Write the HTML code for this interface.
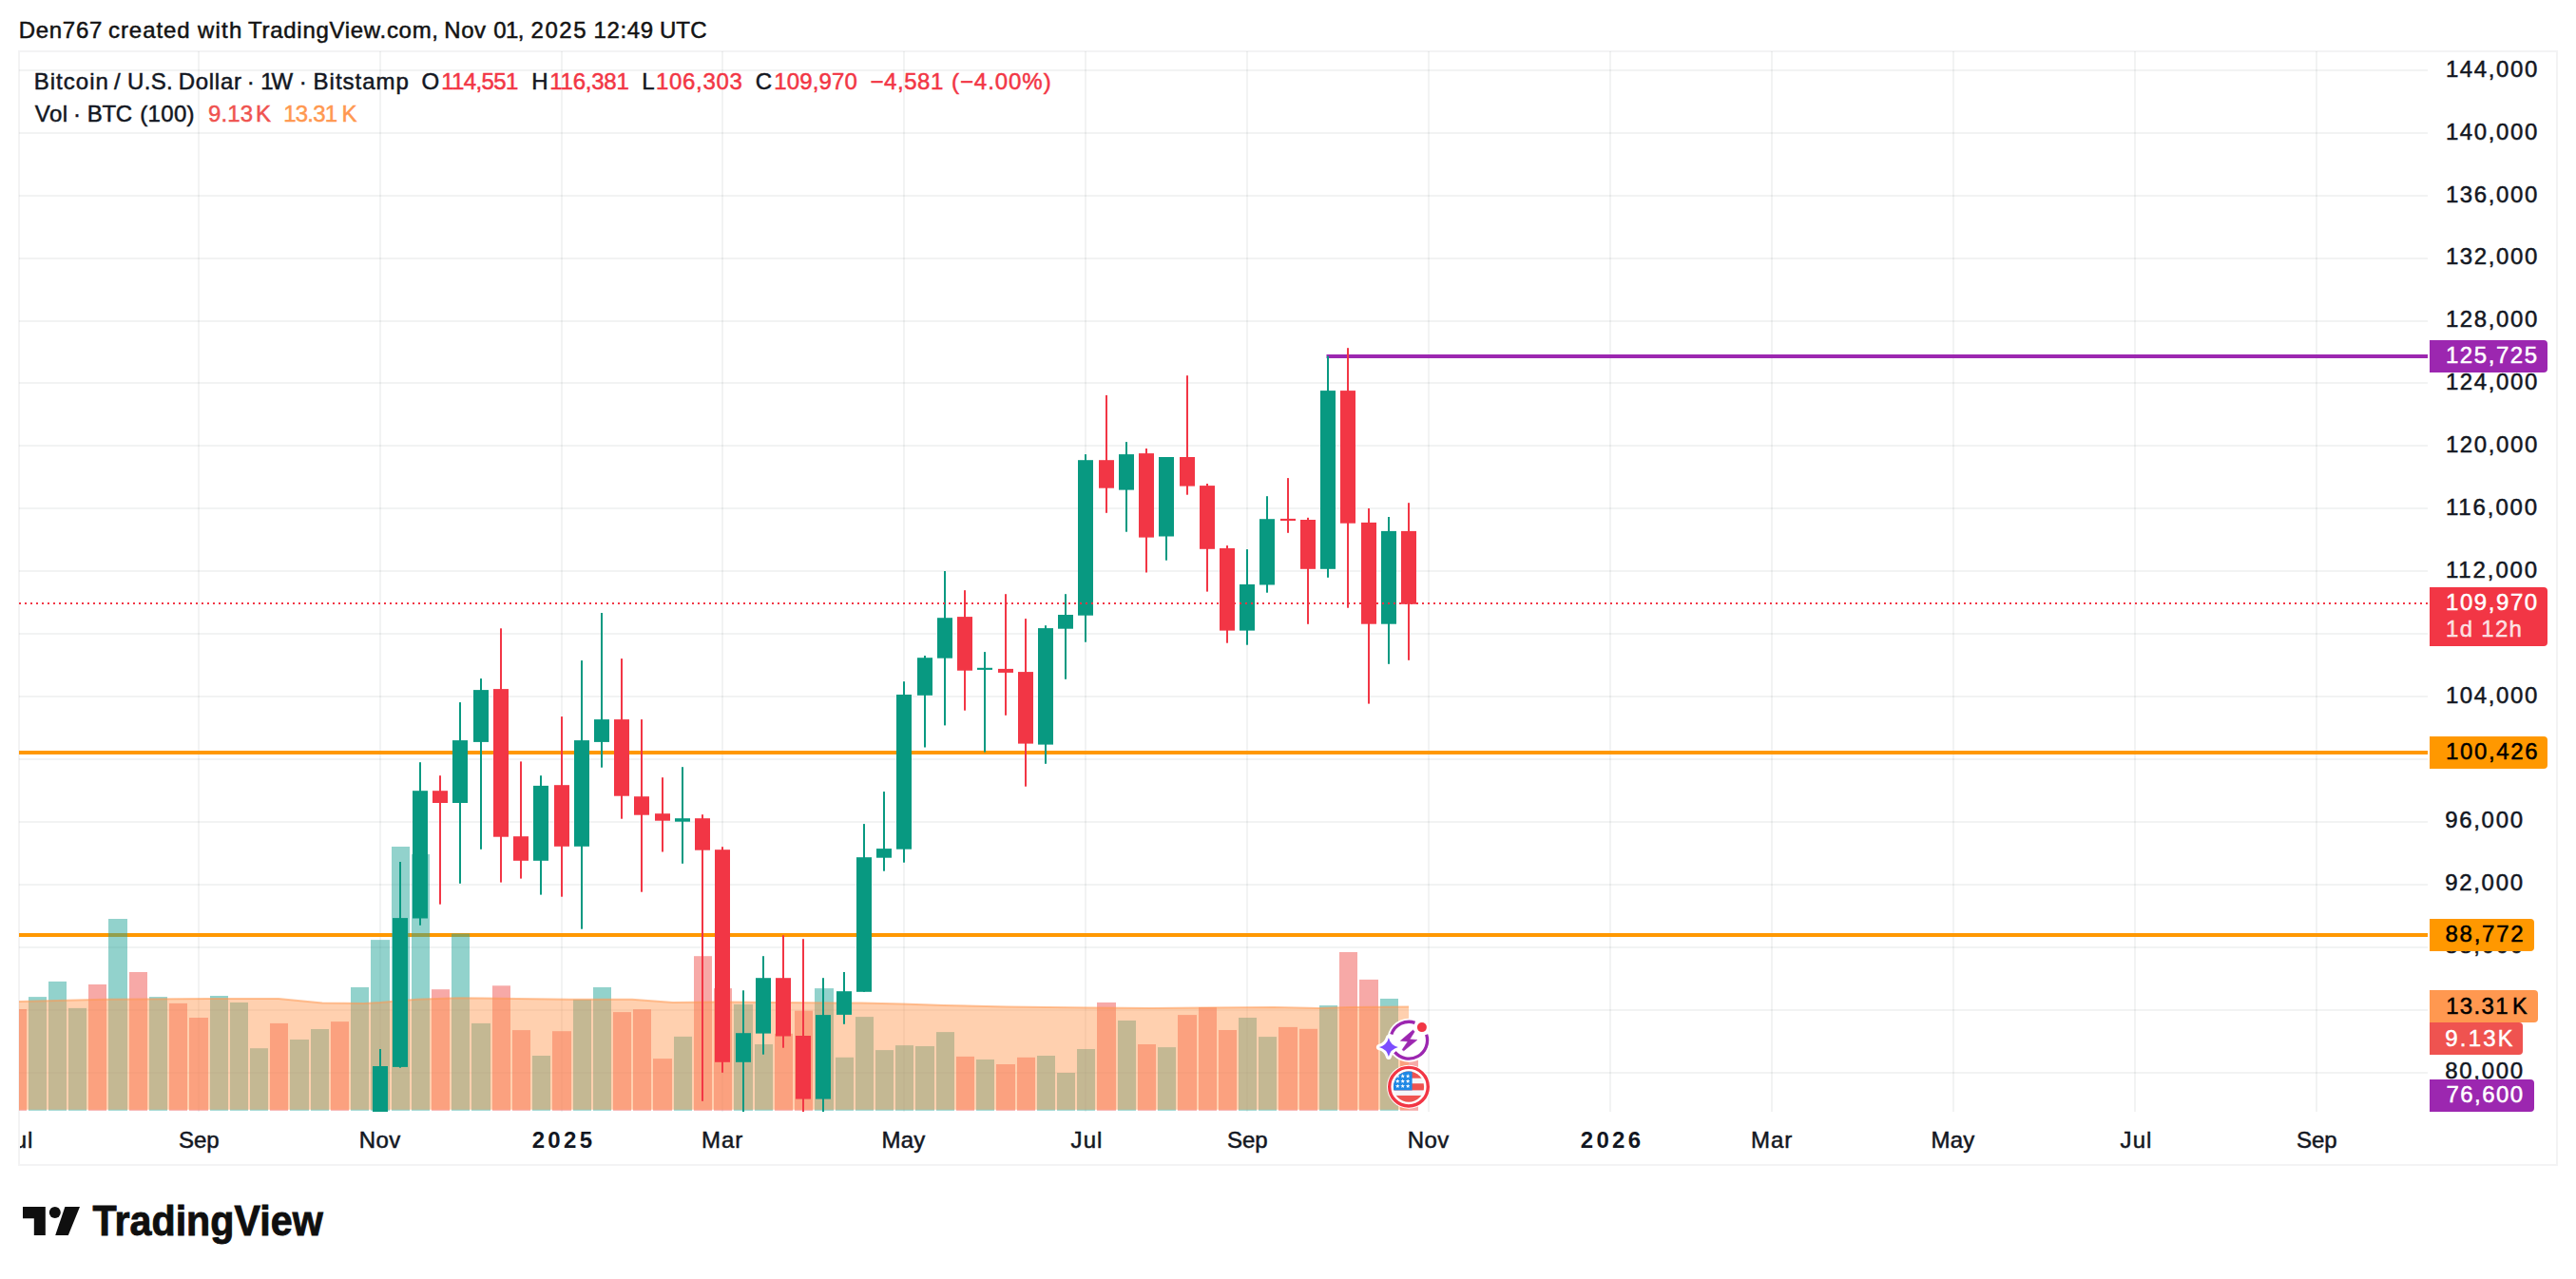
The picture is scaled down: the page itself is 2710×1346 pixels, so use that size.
<!DOCTYPE html>
<html lang="en"><head><meta charset="utf-8"><title>BTCUSD chart</title>
<style>
html,body{margin:0;padding:0;background:#fff;}
body{width:2710px;height:1346px;overflow:hidden;}
svg{display:block;font-family:"Liberation Sans",sans-serif;}
text{white-space:pre;}
</style></head><body>
<svg width="2710" height="1346" viewBox="0 0 2710 1346">
<rect x="0" y="0" width="2710" height="1346" fill="#fff"/>
<rect x="20" y="54" width="2670" height="1172" fill="none" stroke="#f3f3f4" stroke-width="2"/>
<rect x="208" y="54" width="2" height="1116" fill="rgba(42,46,57,0.06)"/>
<rect x="399" y="54" width="2" height="1116" fill="rgba(42,46,57,0.06)"/>
<rect x="590" y="54" width="2" height="1116" fill="rgba(42,46,57,0.06)"/>
<rect x="759" y="54" width="2" height="1116" fill="rgba(42,46,57,0.06)"/>
<rect x="950" y="54" width="2" height="1116" fill="rgba(42,46,57,0.06)"/>
<rect x="1141" y="54" width="2" height="1116" fill="rgba(42,46,57,0.06)"/>
<rect x="1311" y="54" width="2" height="1116" fill="rgba(42,46,57,0.06)"/>
<rect x="1502" y="54" width="2" height="1116" fill="rgba(42,46,57,0.06)"/>
<rect x="1693" y="54" width="2" height="1116" fill="rgba(42,46,57,0.06)"/>
<rect x="1863" y="54" width="2" height="1116" fill="rgba(42,46,57,0.06)"/>
<rect x="2054" y="54" width="2" height="1116" fill="rgba(42,46,57,0.06)"/>
<rect x="2245" y="54" width="2" height="1116" fill="rgba(42,46,57,0.06)"/>
<rect x="2436" y="54" width="2" height="1116" fill="rgba(42,46,57,0.06)"/>
<rect x="20" y="73" width="2534" height="2" fill="rgba(42,46,57,0.06)"/>
<rect x="20" y="139" width="2534" height="2" fill="rgba(42,46,57,0.06)"/>
<rect x="20" y="205" width="2534" height="2" fill="rgba(42,46,57,0.06)"/>
<rect x="20" y="271" width="2534" height="2" fill="rgba(42,46,57,0.06)"/>
<rect x="20" y="337" width="2534" height="2" fill="rgba(42,46,57,0.06)"/>
<rect x="20" y="402" width="2534" height="2" fill="rgba(42,46,57,0.06)"/>
<rect x="20" y="468" width="2534" height="2" fill="rgba(42,46,57,0.06)"/>
<rect x="20" y="534" width="2534" height="2" fill="rgba(42,46,57,0.06)"/>
<rect x="20" y="600" width="2534" height="2" fill="rgba(42,46,57,0.06)"/>
<rect x="20" y="666" width="2534" height="2" fill="rgba(42,46,57,0.06)"/>
<rect x="20" y="732" width="2534" height="2" fill="rgba(42,46,57,0.06)"/>
<rect x="20" y="798" width="2534" height="2" fill="rgba(42,46,57,0.06)"/>
<rect x="20" y="864" width="2534" height="2" fill="rgba(42,46,57,0.06)"/>
<rect x="20" y="930" width="2534" height="2" fill="rgba(42,46,57,0.06)"/>
<rect x="20" y="996" width="2534" height="2" fill="rgba(42,46,57,0.06)"/>
<rect x="20" y="1062" width="2534" height="2" fill="rgba(42,46,57,0.06)"/>
<rect x="20" y="1128" width="2534" height="2" fill="rgba(42,46,57,0.06)"/>
<clipPath id="pc"><rect x="20" y="54" width="2534" height="1116"/></clipPath>
<g clip-path="url(#pc)">
<rect x="20" y="790" width="2534" height="4" fill="#ff9800"/>
<rect x="20" y="982" width="2534" height="4" fill="#ff9800"/>
<rect x="1395.5" y="373" width="1158.5" height="4" fill="#9c27b0"/>
<rect x="8" y="1062.0" width="20" height="106.8" fill="rgba(239,83,80,0.5)"/>
<rect x="30" y="1049.1" width="19" height="119.7" fill="rgba(38,166,154,0.5)"/>
<rect x="51" y="1032.9" width="19" height="135.9" fill="rgba(38,166,154,0.5)"/>
<rect x="72" y="1060.9" width="19" height="107.9" fill="rgba(38,166,154,0.5)"/>
<rect x="93" y="1036.0" width="19" height="132.8" fill="rgba(239,83,80,0.5)"/>
<rect x="114" y="967.0" width="20" height="201.8" fill="rgba(38,166,154,0.5)"/>
<rect x="136" y="1023.0" width="19" height="145.8" fill="rgba(239,83,80,0.5)"/>
<rect x="157" y="1049.1" width="19" height="119.7" fill="rgba(38,166,154,0.5)"/>
<rect x="178" y="1055.9" width="19" height="112.9" fill="rgba(239,83,80,0.5)"/>
<rect x="199" y="1071.0" width="20" height="97.8" fill="rgba(239,83,80,0.5)"/>
<rect x="221" y="1048.0" width="19" height="120.8" fill="rgba(38,166,154,0.5)"/>
<rect x="242" y="1055.0" width="19" height="113.8" fill="rgba(38,166,154,0.5)"/>
<rect x="263" y="1103.2" width="19" height="65.6" fill="rgba(38,166,154,0.5)"/>
<rect x="284" y="1076.9" width="19" height="91.9" fill="rgba(239,83,80,0.5)"/>
<rect x="305" y="1094.0" width="20" height="74.8" fill="rgba(38,166,154,0.5)"/>
<rect x="327" y="1083.0" width="19" height="85.8" fill="rgba(38,166,154,0.5)"/>
<rect x="348" y="1075.1" width="19" height="93.7" fill="rgba(239,83,80,0.5)"/>
<rect x="369" y="1039.0" width="19" height="129.8" fill="rgba(38,166,154,0.5)"/>
<rect x="390" y="989.1" width="20" height="179.7" fill="rgba(38,166,154,0.5)"/>
<rect x="412" y="891.0" width="19" height="277.8" fill="rgba(38,166,154,0.5)"/>
<rect x="433" y="899.0" width="19" height="269.8" fill="rgba(38,166,154,0.5)"/>
<rect x="454" y="1041.2" width="19" height="127.6" fill="rgba(239,83,80,0.5)"/>
<rect x="475" y="982.5" width="19" height="186.3" fill="rgba(38,166,154,0.5)"/>
<rect x="496" y="1076.9" width="20" height="91.9" fill="rgba(38,166,154,0.5)"/>
<rect x="518" y="1037.3" width="19" height="131.5" fill="rgba(239,83,80,0.5)"/>
<rect x="539" y="1084.1" width="19" height="84.7" fill="rgba(239,83,80,0.5)"/>
<rect x="560" y="1111.0" width="19" height="57.8" fill="rgba(38,166,154,0.5)"/>
<rect x="581" y="1085.2" width="20" height="83.6" fill="rgba(239,83,80,0.5)"/>
<rect x="603" y="1051.9" width="19" height="116.9" fill="rgba(38,166,154,0.5)"/>
<rect x="624" y="1039.0" width="19" height="129.8" fill="rgba(38,166,154,0.5)"/>
<rect x="645" y="1065.1" width="19" height="103.7" fill="rgba(239,83,80,0.5)"/>
<rect x="666" y="1062.2" width="19" height="106.6" fill="rgba(239,83,80,0.5)"/>
<rect x="687" y="1114.1" width="20" height="54.7" fill="rgba(239,83,80,0.5)"/>
<rect x="709" y="1090.9" width="19" height="77.9" fill="rgba(38,166,154,0.5)"/>
<rect x="730" y="1006.2" width="19" height="162.6" fill="rgba(239,83,80,0.5)"/>
<rect x="751" y="1040.1" width="19" height="128.7" fill="rgba(239,83,80,0.5)"/>
<rect x="772" y="1057.0" width="20" height="111.8" fill="rgba(38,166,154,0.5)"/>
<rect x="794" y="1099.0" width="19" height="69.8" fill="rgba(38,166,154,0.5)"/>
<rect x="815" y="1087.8" width="19" height="81.0" fill="rgba(239,83,80,0.5)"/>
<rect x="836" y="1063.7" width="19" height="105.1" fill="rgba(239,83,80,0.5)"/>
<rect x="857" y="1040.1" width="20" height="128.7" fill="rgba(38,166,154,0.5)"/>
<rect x="879" y="1112.8" width="19" height="56.0" fill="rgba(38,166,154,0.5)"/>
<rect x="900" y="1070.1" width="19" height="98.7" fill="rgba(38,166,154,0.5)"/>
<rect x="921" y="1105.1" width="19" height="63.7" fill="rgba(38,166,154,0.5)"/>
<rect x="942" y="1100.1" width="19" height="68.7" fill="rgba(38,166,154,0.5)"/>
<rect x="963" y="1101.0" width="20" height="67.8" fill="rgba(38,166,154,0.5)"/>
<rect x="985" y="1086.1" width="19" height="82.7" fill="rgba(38,166,154,0.5)"/>
<rect x="1006" y="1111.9" width="19" height="56.9" fill="rgba(239,83,80,0.5)"/>
<rect x="1027" y="1115.0" width="19" height="53.8" fill="rgba(38,166,154,0.5)"/>
<rect x="1048" y="1120.0" width="20" height="48.8" fill="rgba(239,83,80,0.5)"/>
<rect x="1070" y="1112.8" width="19" height="56.0" fill="rgba(239,83,80,0.5)"/>
<rect x="1091" y="1111.0" width="19" height="57.8" fill="rgba(38,166,154,0.5)"/>
<rect x="1112" y="1129.0" width="19" height="39.8" fill="rgba(38,166,154,0.5)"/>
<rect x="1133" y="1104.0" width="19" height="64.8" fill="rgba(38,166,154,0.5)"/>
<rect x="1154" y="1055.0" width="20" height="113.8" fill="rgba(239,83,80,0.5)"/>
<rect x="1176" y="1074.0" width="19" height="94.8" fill="rgba(38,166,154,0.5)"/>
<rect x="1197" y="1099.0" width="19" height="69.8" fill="rgba(239,83,80,0.5)"/>
<rect x="1218" y="1102.1" width="19" height="66.7" fill="rgba(38,166,154,0.5)"/>
<rect x="1239" y="1068.1" width="20" height="100.7" fill="rgba(239,83,80,0.5)"/>
<rect x="1261" y="1060.0" width="19" height="108.8" fill="rgba(239,83,80,0.5)"/>
<rect x="1282" y="1084.0" width="19" height="84.8" fill="rgba(239,83,80,0.5)"/>
<rect x="1303" y="1071.0" width="19" height="97.8" fill="rgba(38,166,154,0.5)"/>
<rect x="1324" y="1091.1" width="19" height="77.7" fill="rgba(38,166,154,0.5)"/>
<rect x="1345" y="1080.9" width="20" height="87.9" fill="rgba(239,83,80,0.5)"/>
<rect x="1367" y="1082.8" width="19" height="86.0" fill="rgba(239,83,80,0.5)"/>
<rect x="1388" y="1058.1" width="19" height="110.7" fill="rgba(38,166,154,0.5)"/>
<rect x="1409" y="1002.0" width="19" height="166.8" fill="rgba(239,83,80,0.5)"/>
<rect x="1430" y="1030.9" width="20" height="137.9" fill="rgba(239,83,80,0.5)"/>
<rect x="1452" y="1051.0" width="19" height="117.8" fill="rgba(38,166,154,0.5)"/>
<rect x="1473" y="1093.0" width="19" height="75.8" fill="rgba(239,83,80,0.5)"/>
<polygon points="20,1053.9 109,1051.7 219,1051 293,1051 339,1055.4 383,1055.9 400,1055 438,1051.7 482,1050.2 599,1051.7 665,1051.7 708,1055 752,1054.5 880,1055.4 906,1055.4 949,1056.5 993,1058 1059,1059.4 1146,1060.5 1212,1060.9 1340,1060 1387,1061 1420,1060 1482,1059.4 1482,1167.8 20,1167.8" fill="rgba(255,152,80,0.46)"/>
<polyline points="20,1053.9 109,1051.7 219,1051 293,1051 339,1055.4 383,1055.9 400,1055 438,1051.7 482,1050.2 599,1051.7 665,1051.7 708,1055 752,1054.5 880,1055.4 906,1055.4 949,1056.5 993,1058 1059,1059.4 1146,1060.5 1212,1060.9 1340,1060 1387,1061 1420,1060 1482,1059.4" fill="none" stroke="rgba(255,152,80,0.55)" stroke-width="2"/>
<rect x="399" y="1104.0" width="2" height="71.0" fill="#089981"/>
<rect x="392" y="1122.0" width="16" height="53.0" fill="#089981"/>
<rect x="420" y="907.0" width="2" height="216.7" fill="#089981"/>
<rect x="413" y="966.1" width="16" height="156.8" fill="#089981"/>
<rect x="441" y="802.2" width="2" height="171.6" fill="#089981"/>
<rect x="434" y="832.2" width="16" height="134.3" fill="#089981"/>
<rect x="462" y="816.2" width="2" height="135.5" fill="#f23645"/>
<rect x="455" y="832.2" width="16" height="12.8" fill="#f23645"/>
<rect x="483" y="739.1" width="2" height="190.7" fill="#089981"/>
<rect x="476" y="779.1" width="16" height="65.9" fill="#089981"/>
<rect x="505" y="714.1" width="2" height="179.7" fill="#089981"/>
<rect x="498" y="726.1" width="16" height="54.8" fill="#089981"/>
<rect x="526" y="661.3" width="2" height="267.3" fill="#f23645"/>
<rect x="519" y="725.1" width="16" height="155.6" fill="#f23645"/>
<rect x="547" y="801.4" width="2" height="123.2" fill="#f23645"/>
<rect x="540" y="880.2" width="16" height="25.6" fill="#f23645"/>
<rect x="568" y="816.2" width="2" height="125.4" fill="#089981"/>
<rect x="561" y="826.9" width="16" height="78.9" fill="#089981"/>
<rect x="590" y="754.1" width="2" height="189.6" fill="#f23645"/>
<rect x="583" y="826.2" width="16" height="64.6" fill="#f23645"/>
<rect x="611" y="695.1" width="2" height="282.6" fill="#089981"/>
<rect x="604" y="779.1" width="16" height="111.7" fill="#089981"/>
<rect x="632" y="645.0" width="2" height="162.7" fill="#089981"/>
<rect x="625" y="757.1" width="16" height="23.8" fill="#089981"/>
<rect x="653" y="693.1" width="2" height="168.6" fill="#f23645"/>
<rect x="646" y="757.1" width="16" height="80.6" fill="#f23645"/>
<rect x="674" y="757.1" width="2" height="181.6" fill="#f23645"/>
<rect x="667" y="838.2" width="16" height="19.5" fill="#f23645"/>
<rect x="696" y="818.2" width="2" height="78.3" fill="#f23645"/>
<rect x="689" y="856.2" width="16" height="7.5" fill="#f23645"/>
<rect x="717" y="807.2" width="2" height="101.6" fill="#089981"/>
<rect x="710" y="861.2" width="16" height="3.5" fill="#089981"/>
<rect x="738" y="857.2" width="2" height="301.6" fill="#f23645"/>
<rect x="731" y="861.2" width="16" height="33.5" fill="#f23645"/>
<rect x="759" y="891.2" width="2" height="237.6" fill="#f23645"/>
<rect x="752" y="894.2" width="16" height="223.6" fill="#f23645"/>
<rect x="781" y="1042.3" width="2" height="132.7" fill="#089981"/>
<rect x="774" y="1087.2" width="16" height="30.6" fill="#089981"/>
<rect x="802" y="1006.2" width="2" height="103.5" fill="#089981"/>
<rect x="795" y="1029.2" width="16" height="58.4" fill="#089981"/>
<rect x="823" y="984.3" width="2" height="118.4" fill="#f23645"/>
<rect x="816" y="1029.2" width="16" height="61.3" fill="#f23645"/>
<rect x="844" y="988.2" width="2" height="186.8" fill="#f23645"/>
<rect x="837" y="1090.0" width="16" height="66.6" fill="#f23645"/>
<rect x="865" y="1029.2" width="2" height="145.8" fill="#089981"/>
<rect x="858" y="1068.1" width="16" height="88.5" fill="#089981"/>
<rect x="887" y="1023.0" width="2" height="54.8" fill="#089981"/>
<rect x="880" y="1043.2" width="16" height="24.7" fill="#089981"/>
<rect x="908" y="867.1" width="2" height="176.7" fill="#089981"/>
<rect x="901" y="902.2" width="16" height="141.6" fill="#089981"/>
<rect x="929" y="833.1" width="2" height="83.6" fill="#089981"/>
<rect x="922" y="893.1" width="16" height="9.6" fill="#089981"/>
<rect x="950" y="717.2" width="2" height="190.5" fill="#089981"/>
<rect x="943" y="731.0" width="16" height="162.7" fill="#089981"/>
<rect x="972" y="690.0" width="2" height="96.5" fill="#089981"/>
<rect x="965" y="692.2" width="16" height="39.6" fill="#089981"/>
<rect x="993" y="601.0" width="2" height="162.4" fill="#089981"/>
<rect x="986" y="650.2" width="16" height="42.5" fill="#089981"/>
<rect x="1014" y="621.2" width="2" height="126.5" fill="#f23645"/>
<rect x="1007" y="649.1" width="16" height="56.6" fill="#f23645"/>
<rect x="1035" y="686.1" width="2" height="105.5" fill="#089981"/>
<rect x="1028" y="702.8" width="16" height="2.1" fill="#089981"/>
<rect x="1057" y="625.2" width="2" height="127.6" fill="#f23645"/>
<rect x="1050" y="703.9" width="16" height="4.0" fill="#f23645"/>
<rect x="1078" y="651.1" width="2" height="176.6" fill="#f23645"/>
<rect x="1071" y="707.1" width="16" height="75.5" fill="#f23645"/>
<rect x="1099" y="658.2" width="2" height="145.6" fill="#089981"/>
<rect x="1092" y="661.1" width="16" height="122.5" fill="#089981"/>
<rect x="1120" y="625.2" width="2" height="89.6" fill="#089981"/>
<rect x="1113" y="647.0" width="16" height="14.7" fill="#089981"/>
<rect x="1141" y="478.1" width="2" height="197.6" fill="#089981"/>
<rect x="1134" y="484.2" width="16" height="163.5" fill="#089981"/>
<rect x="1163" y="415.9" width="2" height="123.9" fill="#f23645"/>
<rect x="1156" y="484.2" width="16" height="29.5" fill="#f23645"/>
<rect x="1184" y="465.1" width="2" height="94.6" fill="#089981"/>
<rect x="1177" y="478.1" width="16" height="37.5" fill="#089981"/>
<rect x="1205" y="472.0" width="2" height="130.5" fill="#f23645"/>
<rect x="1198" y="477.1" width="16" height="88.5" fill="#f23645"/>
<rect x="1226" y="481.0" width="2" height="108.7" fill="#089981"/>
<rect x="1219" y="481.0" width="16" height="83.5" fill="#089981"/>
<rect x="1248" y="395.2" width="2" height="125.5" fill="#f23645"/>
<rect x="1241" y="481.0" width="16" height="30.6" fill="#f23645"/>
<rect x="1269" y="509.0" width="2" height="113.6" fill="#f23645"/>
<rect x="1262" y="511.1" width="16" height="66.7" fill="#f23645"/>
<rect x="1290" y="574.1" width="2" height="102.6" fill="#f23645"/>
<rect x="1283" y="577.0" width="16" height="86.6" fill="#f23645"/>
<rect x="1311" y="578.1" width="2" height="100.6" fill="#089981"/>
<rect x="1304" y="615.0" width="16" height="48.6" fill="#089981"/>
<rect x="1332" y="522.2" width="2" height="101.5" fill="#089981"/>
<rect x="1325" y="546.2" width="16" height="69.3" fill="#089981"/>
<rect x="1354" y="503.1" width="2" height="57.7" fill="#f23645"/>
<rect x="1347" y="545.9" width="16" height="2.1" fill="#f23645"/>
<rect x="1375" y="544.8" width="2" height="112.0" fill="#f23645"/>
<rect x="1368" y="547.0" width="16" height="51.8" fill="#f23645"/>
<rect x="1396" y="374.7" width="2" height="233.1" fill="#089981"/>
<rect x="1389" y="411.1" width="16" height="187.7" fill="#089981"/>
<rect x="1417" y="366.2" width="2" height="273.5" fill="#f23645"/>
<rect x="1410" y="411.1" width="16" height="139.6" fill="#f23645"/>
<rect x="1439" y="535.0" width="2" height="205.6" fill="#f23645"/>
<rect x="1432" y="549.9" width="16" height="106.8" fill="#f23645"/>
<rect x="1460" y="544.0" width="2" height="154.8" fill="#089981"/>
<rect x="1453" y="558.9" width="16" height="97.8" fill="#089981"/>
<rect x="1481" y="529.2" width="2" height="165.6" fill="#f23645"/>
<rect x="1474" y="558.9" width="16" height="76.9" fill="#f23645"/>
<line x1="20" y1="635" x2="2554" y2="635" stroke="#f23645" stroke-width="2" stroke-dasharray="2 4"/>
</g>
<text x="2572.90" y="80.90" font-size="24" fill="#131722" stroke="#131722" stroke-width="0.5" letter-spacing="1.600">144,000</text>
<text x="2572.90" y="146.76" font-size="24" fill="#131722" stroke="#131722" stroke-width="0.5" letter-spacing="1.600">140,000</text>
<text x="2572.90" y="212.62" font-size="24" fill="#131722" stroke="#131722" stroke-width="0.5" letter-spacing="1.600">136,000</text>
<text x="2572.90" y="278.48" font-size="24" fill="#131722" stroke="#131722" stroke-width="0.5" letter-spacing="1.600">132,000</text>
<text x="2572.90" y="344.34" font-size="24" fill="#131722" stroke="#131722" stroke-width="0.5" letter-spacing="1.600">128,000</text>
<text x="2572.90" y="410.20" font-size="24" fill="#131722" stroke="#131722" stroke-width="0.5" letter-spacing="1.600">124,000</text>
<text x="2572.90" y="476.06" font-size="24" fill="#131722" stroke="#131722" stroke-width="0.5" letter-spacing="1.600">120,000</text>
<text x="2572.90" y="541.92" font-size="24" fill="#131722" stroke="#131722" stroke-width="0.5" letter-spacing="1.890">116,000</text>
<text x="2572.90" y="607.78" font-size="24" fill="#131722" stroke="#131722" stroke-width="0.5" letter-spacing="1.890">112,000</text>
<text x="2572.90" y="739.50" font-size="24" fill="#131722" stroke="#131722" stroke-width="0.5" letter-spacing="1.600">104,000</text>
<text x="2572.90" y="805.36" font-size="24" fill="#131722" stroke="#131722" stroke-width="0.5" letter-spacing="1.600">100,000</text>
<text x="2572.22" y="871.22" font-size="24" fill="#131722" stroke="#131722" stroke-width="0.5" letter-spacing="1.680">96,000</text>
<text x="2572.22" y="937.08" font-size="24" fill="#131722" stroke="#131722" stroke-width="0.5" letter-spacing="1.680">92,000</text>
<text x="2572.28" y="1002.94" font-size="24" fill="#131722" stroke="#131722" stroke-width="0.5" letter-spacing="1.668">88,000</text>
<text x="2572.28" y="1134.66" font-size="24" fill="#131722" stroke="#131722" stroke-width="0.5" letter-spacing="1.668">80,000</text>
<path d="M2556,358H2676a4,4 0 0 1 4,4V388a4,4 0 0 1 -4,4H2556Z" fill="#9c27b0"/>
<text x="2572.90" y="382.20" font-size="24" fill="#fff" stroke="#fff" stroke-width="0.5" letter-spacing="1.577">125,725</text>
<path d="M2556,618H2676a4,4 0 0 1 4,4V676a4,4 0 0 1 -4,4H2556Z" fill="#f23645"/>
<text x="2573.00" y="642.20" font-size="24" fill="#fff" stroke="#fff" stroke-width="0.5" letter-spacing="1.567">109,970</text>
<text x="2573.00" y="670.00" font-size="24" fill="rgba(255,255,255,0.82)" stroke="rgba(255,255,255,0.82)" stroke-width="0.5" letter-spacing="1.304">1d 12h</text>
<path d="M2556,775H2676a4,4 0 0 1 4,4V805a4,4 0 0 1 -4,4H2556Z" fill="#ff9800"/>
<text x="2572.90" y="798.80" font-size="24" fill="#000" stroke="#000" stroke-width="0.5" letter-spacing="1.670">100,426</text>
<path d="M2556,967H2662a4,4 0 0 1 4,4V997a4,4 0 0 1 -4,4H2556Z" fill="#ff9800"/>
<text x="2572.48" y="991.00" font-size="24" fill="#000" stroke="#000" stroke-width="0.5" letter-spacing="1.756">88,772</text>
<path d="M2556,1042H2666a4,4 0 0 1 4,4V1072a4,4 0 0 1 -4,4H2556Z" fill="#ff9850"/>
<text y="1067.00" font-size="24" fill="#000" stroke="#000" stroke-width="0.5"><tspan x="2573.20" letter-spacing="1.320">13.31</tspan><tspan x="2643.08" textLength="15.62" lengthAdjust="spacingAndGlyphs">K</tspan></text>
<path d="M2556,1076H2650a4,4 0 0 1 4,4V1106a4,4 0 0 1 -4,4H2556Z" fill="#ef5350"/>
<text y="1100.70" font-size="24" fill="#fff" stroke="#fff" stroke-width="0.5"><tspan x="2572.32" letter-spacing="2.173">9.13</tspan><tspan x="2627.78" textLength="15.62" lengthAdjust="spacingAndGlyphs">K</tspan></text>
<path d="M2556,1136H2662a4,4 0 0 1 4,4V1166a4,4 0 0 1 -4,4H2556Z" fill="#9c27b0"/>
<text x="2573.40" y="1160.20" font-size="24" fill="#fff" stroke="#fff" stroke-width="0.5" letter-spacing="1.464">76,600</text>
<circle cx="1482.2" cy="1094.7" r="23" fill="#fff"/>
<path d="M1463.79,1088.58A19.4,19.4 0 0 1 1488.52,1076.36 M1500.65,1088.71A19.4,19.4 0 0 1 1467.34,1107.17" fill="none" stroke="#9c27b0" stroke-width="3.3"/>
<polygon points="1486.45,1084.1 1473.38,1095.28 1481.12,1095.97 1475.1,1104.74 1476.8,1105.86 1490.75,1094.42 1483.0,1093.82 1488.17,1085.65" fill="#9c27b0" stroke="#9c27b0" stroke-width="0.6" stroke-linejoin="round"/>
<circle cx="1495.9" cy="1081.1" r="7.6" fill="#fff"/><circle cx="1495.9" cy="1081.1" r="5" fill="#f23645"/>
<path d="M1460.9,1092Q1462.9,1100 1470.9,1102Q1462.9,1104 1460.9,1112Q1458.9,1104 1450.9,1102Q1458.9,1100 1460.9,1092Z" fill="#fff" stroke="#fff" stroke-width="6" stroke-linejoin="round"/>
<path d="M1460.9,1092Q1462.9,1100 1470.9,1102Q1462.9,1104 1460.9,1112Q1458.9,1104 1450.9,1102Q1458.9,1100 1460.9,1092Z" fill="#7c4dff"/>
<circle cx="1482" cy="1143.7" r="23" fill="#fff"/>
<circle cx="1482" cy="1143.7" r="20.3" fill="#fff" stroke="#f23645" stroke-width="3.4"/>
<clipPath id="fc"><circle cx="1482" cy="1143.7" r="16.1"/></clipPath><g clip-path="url(#fc)">
<rect x="1465" y="1126.7" width="34" height="34" fill="#f5f7fa"/>
<rect x="1465" y="1126.70" width="34" height="8.00" fill="#ef5350"/>
<rect x="1465" y="1140.26" width="34" height="7.14" fill="#ef5350"/>
<rect x="1465" y="1152.90" width="34" height="7.80" fill="#ef5350"/>
<rect x="1465" y="1126.7" width="20.6" height="20.7" fill="#1e88e5"/>
<polygon points="1470.30,1130.10 1470.89,1131.69 1472.58,1131.76 1471.25,1132.81 1471.71,1134.44 1470.30,1133.50 1468.89,1134.44 1469.35,1132.81 1468.02,1131.76 1469.71,1131.69" fill="#fff"/>
<polygon points="1470.30,1135.50 1470.89,1137.09 1472.58,1137.16 1471.25,1138.21 1471.71,1139.84 1470.30,1138.90 1468.89,1139.84 1469.35,1138.21 1468.02,1137.16 1469.71,1137.09" fill="#fff"/>
<polygon points="1470.30,1140.70 1470.89,1142.29 1472.58,1142.36 1471.25,1143.41 1471.71,1145.04 1470.30,1144.10 1468.89,1145.04 1469.35,1143.41 1468.02,1142.36 1469.71,1142.29" fill="#fff"/>
<polygon points="1475.70,1130.10 1476.29,1131.69 1477.98,1131.76 1476.65,1132.81 1477.11,1134.44 1475.70,1133.50 1474.29,1134.44 1474.75,1132.81 1473.42,1131.76 1475.11,1131.69" fill="#fff"/>
<polygon points="1475.70,1135.50 1476.29,1137.09 1477.98,1137.16 1476.65,1138.21 1477.11,1139.84 1475.70,1138.90 1474.29,1139.84 1474.75,1138.21 1473.42,1137.16 1475.11,1137.09" fill="#fff"/>
<polygon points="1475.70,1140.70 1476.29,1142.29 1477.98,1142.36 1476.65,1143.41 1477.11,1145.04 1475.70,1144.10 1474.29,1145.04 1474.75,1143.41 1473.42,1142.36 1475.11,1142.29" fill="#fff"/>
<polygon points="1481.14,1130.10 1481.73,1131.69 1483.42,1131.76 1482.09,1132.81 1482.55,1134.44 1481.14,1133.50 1479.73,1134.44 1480.19,1132.81 1478.86,1131.76 1480.55,1131.69" fill="#fff"/>
<polygon points="1481.14,1135.50 1481.73,1137.09 1483.42,1137.16 1482.09,1138.21 1482.55,1139.84 1481.14,1138.90 1479.73,1139.84 1480.19,1138.21 1478.86,1137.16 1480.55,1137.09" fill="#fff"/>
<polygon points="1481.14,1140.70 1481.73,1142.29 1483.42,1142.36 1482.09,1143.41 1482.55,1145.04 1481.14,1144.10 1479.73,1145.04 1480.19,1143.41 1478.86,1142.36 1480.55,1142.29" fill="#fff"/>
</g>
<clipPath id="tc"><rect x="21" y="1170" width="2668" height="55"/></clipPath><g clip-path="url(#tc)">
<text x="1.59" y="1207.90" font-size="24" fill="#131722" stroke="#131722" stroke-width="0.5" letter-spacing="1.080">Jul</text>
<text x="188.07" y="1207.90" font-size="24" fill="#131722" stroke="#131722" stroke-width="0.5" letter-spacing="-0.060">Sep</text>
<text x="377.78" y="1207.90" font-size="24" fill="#131722" stroke="#131722" stroke-width="0.5" letter-spacing="0.360">Nov</text>
<text x="559.67" y="1207.90" font-size="24" fill="#131722" letter-spacing="3.313" font-weight="700">2025</text>
<text x="737.88" y="1207.90" font-size="24" fill="#131722" stroke="#131722" stroke-width="0.5" letter-spacing="1.070">Mar</text>
<text x="927.56" y="1207.90" font-size="24" fill="#131722" stroke="#131722" stroke-width="0.5" letter-spacing="0.205">May</text>
<text x="1126.59" y="1207.90" font-size="24" fill="#131722" stroke="#131722" stroke-width="0.5" letter-spacing="1.080">Jul</text>
<text x="1291.07" y="1207.90" font-size="24" fill="#131722" stroke="#131722" stroke-width="0.5" letter-spacing="-0.060">Sep</text>
<text x="1480.78" y="1207.90" font-size="24" fill="#131722" stroke="#131722" stroke-width="0.5" letter-spacing="0.360">Nov</text>
<text x="1662.67" y="1207.90" font-size="24" fill="#131722" letter-spacing="3.373" font-weight="700">2026</text>
<text x="1841.88" y="1207.90" font-size="24" fill="#131722" stroke="#131722" stroke-width="0.5" letter-spacing="1.070">Mar</text>
<text x="2031.56" y="1207.90" font-size="24" fill="#131722" stroke="#131722" stroke-width="0.5" letter-spacing="0.205">May</text>
<text x="2230.59" y="1207.90" font-size="24" fill="#131722" stroke="#131722" stroke-width="0.5" letter-spacing="1.080">Jul</text>
<text x="2416.07" y="1207.90" font-size="24" fill="#131722" stroke="#131722" stroke-width="0.5" letter-spacing="-0.060">Sep</text>
</g>
<text y="39.80" font-size="24" fill="#131313" stroke="#131313" stroke-width="0.5"><tspan x="19.68" letter-spacing="0.720">Den767</tspan> <tspan x="113.98" letter-spacing="0.947">created</tspan> <tspan x="208.06" letter-spacing="1.193">with</tspan> <tspan x="261.12" letter-spacing="0.697">TradingView.com,</tspan> <tspan x="467.28" letter-spacing="0.560">Nov</tspan> <tspan x="519.20" letter-spacing="-0.580">01,</tspan> <tspan x="558.50" letter-spacing="1.573">2025</tspan> <tspan x="624.50" letter-spacing="0.655">12:49</tspan> <tspan x="693.90" letter-spacing="0.140">UTC</tspan></text>
<text y="93.80" font-size="24" fill="#131722" stroke="#131722" stroke-width="0.5"><tspan x="35.78" letter-spacing="1.003">Bitcoin</tspan> <tspan x="120.10" letter-spacing="0.000">/</tspan> <tspan x="134.10" letter-spacing="0.293">U.S.</tspan> <tspan x="187.78" letter-spacing="0.696">Dollar</tspan> <tspan x="259.78" letter-spacing="0.000">·</tspan> <tspan x="274.20" letter-spacing="-1.940">1W</tspan> <tspan x="314.78" letter-spacing="0.000">·</tspan> <tspan x="329.58" letter-spacing="0.989">Bitstamp</tspan> <tspan x="443.62" letter-spacing="0.000">O</tspan> <tspan x="464.20" letter-spacing="-0.653" fill="#f23645" stroke="#f23645">114,551</tspan> <tspan x="559.28" letter-spacing="0.000">H</tspan> <tspan x="578.30" letter-spacing="-0.253" fill="#f23645" stroke="#f23645">116,381</tspan> <tspan x="675.28" letter-spacing="0.000">L</tspan> <tspan x="690.10" letter-spacing="0.653" fill="#f23645" stroke="#f23645">106,303</tspan> <tspan x="794.80" letter-spacing="0.000">C</tspan> <tspan x="814.20" letter-spacing="0.133" fill="#f23645" stroke="#f23645">109,970</tspan> <tspan x="915.46" letter-spacing="0.568" fill="#f23645" stroke="#f23645">−4,581</tspan> <tspan x="1000.96" letter-spacing="0.949" fill="#f23645" stroke="#f23645">(−4.00%)</tspan></text>
<text y="127.80" font-size="24" fill="#131722" stroke="#131722" stroke-width="0.5"><tspan x="36.84" letter-spacing="0.430">Vol</tspan> <tspan x="76.88" letter-spacing="0.000">·</tspan> <tspan x="91.83" letter-spacing="-0.415">BTC</tspan> <tspan x="147.31" letter-spacing="0.297">(100)</tspan> <tspan x="219.12" letter-spacing="0.073" fill="#ef5350" stroke="#ef5350">9.13</tspan> <tspan x="269.08" letter-spacing="0.000" fill="#ef5350" stroke="#ef5350">K</tspan> <tspan x="298.20" letter-spacing="-0.780" fill="#ff9850" stroke="#ff9850">13.31</tspan> <tspan x="359.58" letter-spacing="0.000" fill="#ff9850" stroke="#ff9850">K</tspan></text>
<g fill="#0f0f0f"><path d="M24,1270H47.8V1300H35.8V1282.2H24Z"/><circle cx="57.8" cy="1275.9" r="6"/><path d="M68.4,1270H84L71.8,1300H58.2Z"/></g>
<text transform="translate(97.59,1299.90) scale(0.9482,1)" font-size="43.5" fill="#0f0f0f" stroke="#0f0f0f" stroke-width="0.9" font-weight="700">TradingView</text>
</svg>
</body></html>
